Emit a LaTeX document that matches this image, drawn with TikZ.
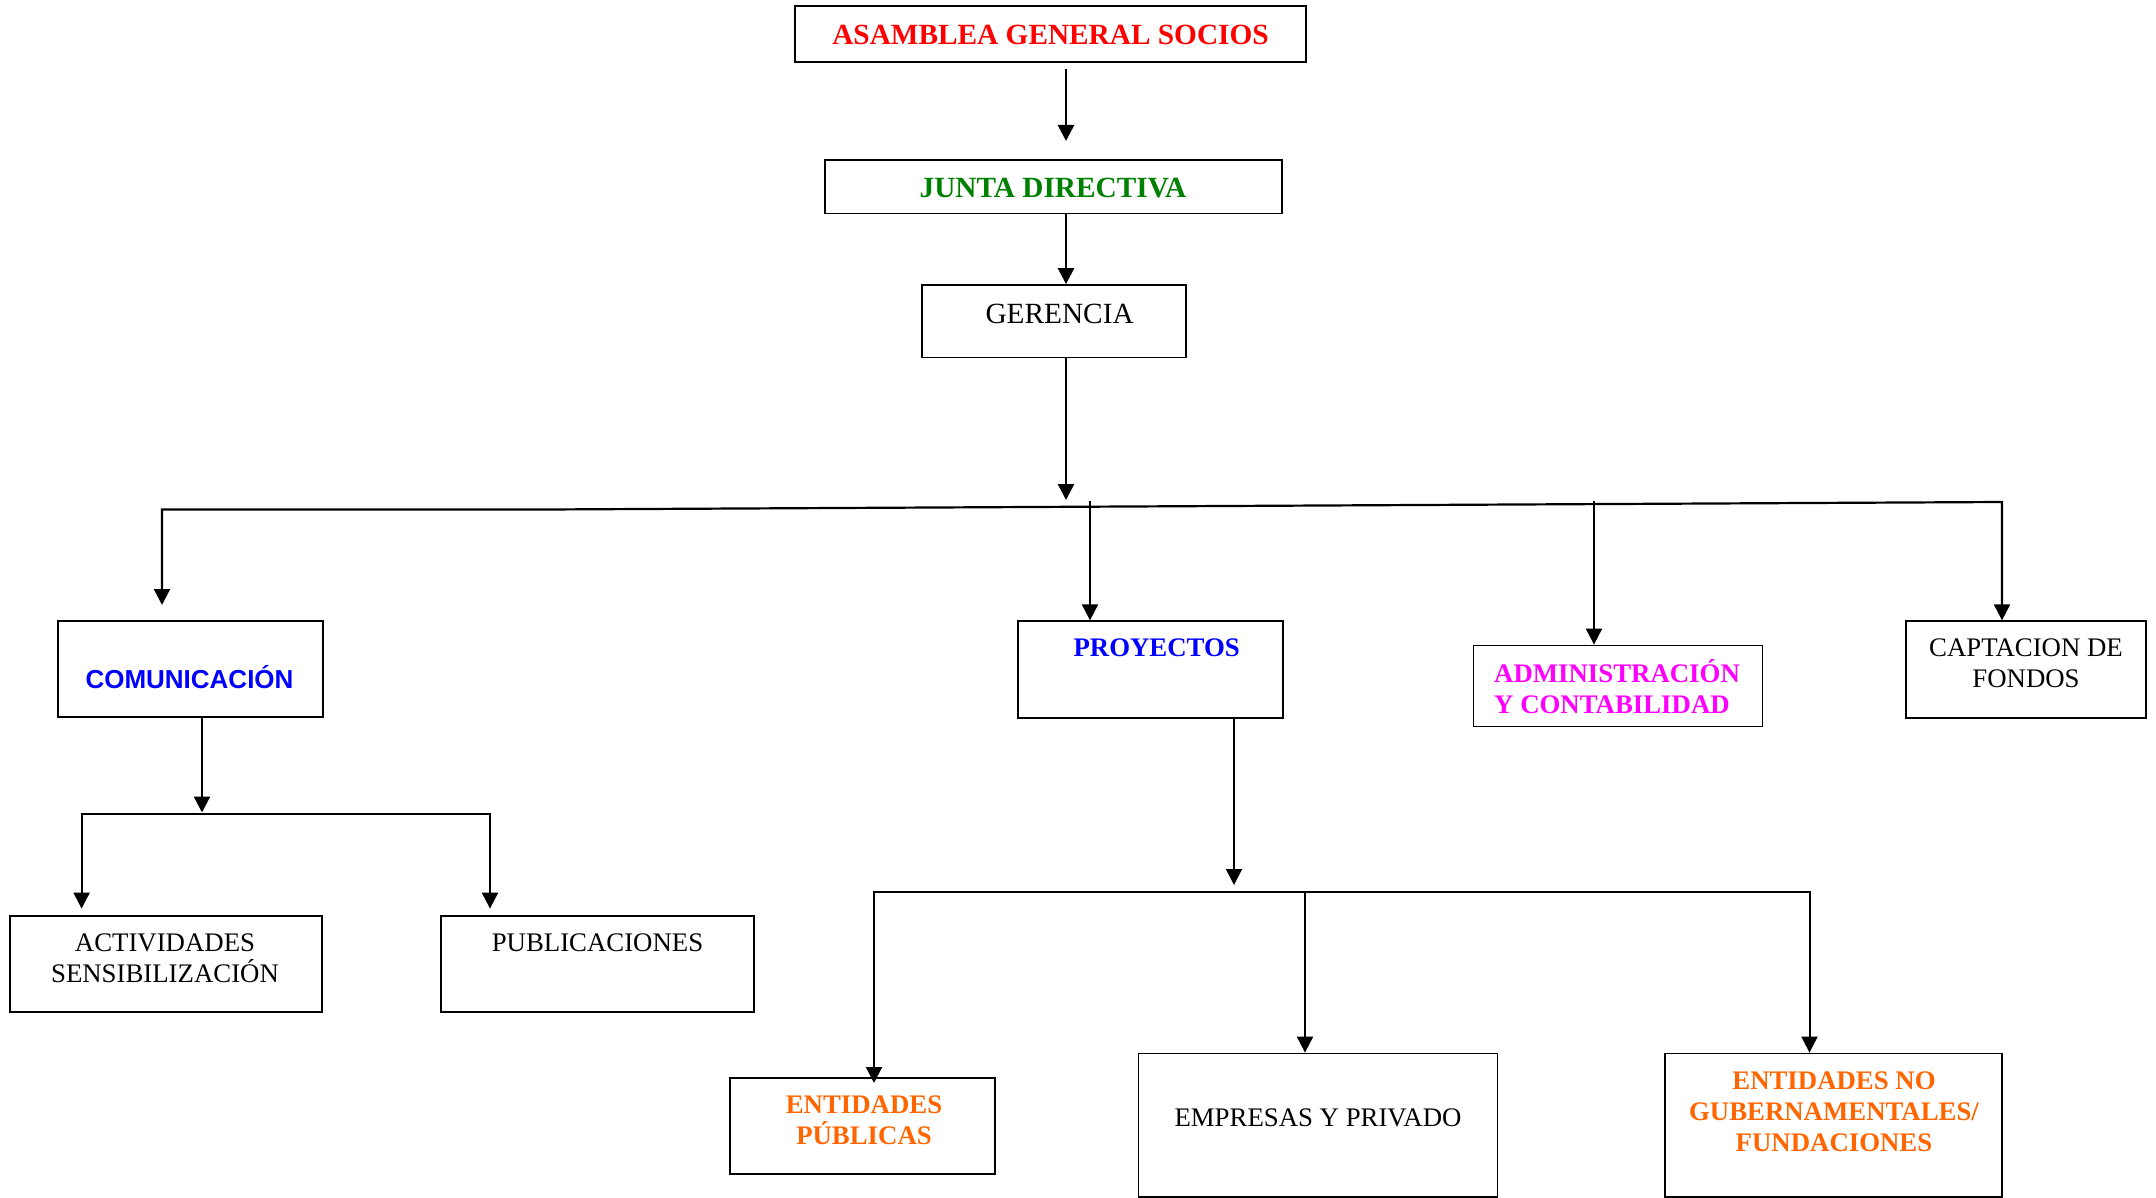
\documentclass[tikz,border=0pt]{standalone}
\usepackage{fontspec}
\setmainfont{Liberation Serif}
\newfontfamily\arialfont{Liberation Sans}
\usetikzlibrary{arrows.meta}
\definecolor{cred}{RGB}{255,0,0}
\definecolor{cgreen}{RGB}{0,128,0}
\definecolor{cblue}{RGB}{0,0,255}
\definecolor{cmag}{RGB}{255,0,255}
\definecolor{corange}{RGB}{255,102,0}
\tikzset{
  box/.style={draw, line width=1.8pt, rectangle, inner sep=0pt},
  big/.style={font=\fontsize{29.3}{33.7}\selectfont, inner sep=0pt, text height=19.4pt, text depth=0pt},
  small/.style={font=\fontsize{26.8}{30.8}\selectfont, inner sep=0pt, align=center},
  oneline/.style={text height=17.7pt, text depth=0pt},
  tipA/.tip={Triangle[width=16pt,length=16pt]},
  arrtop/.style={line width=2.6pt, -tipA},
  arrmid/.style={line width=2.2pt},
  arrlow/.style={line width=2pt},
}
\begin{document}
\begin{tikzpicture}[x=1pt,y=-1pt]
\path[use as bounding box, fill=white] (0,0) rectangle (2156,1198);

% boxes
\node[box, minimum width=511pt, minimum height=56pt] (asam) at (1050.5,34) {};
\node[box, minimum width=457pt, minimum height=53.5pt] (junta) at (1053.5,186.75) {};
\node[box, minimum width=264pt, minimum height=72.5pt] (ger) at (1054,321.25) {};
\node[box, minimum width=265pt, minimum height=96pt] (com) at (190.5,669) {};
\node[box, minimum width=312pt, minimum height=96pt] (act) at (166,964) {};
\node[box, minimum width=313pt, minimum height=96pt] (pub) at (597.5,964) {};
\node[box, minimum width=265pt, minimum height=96.5pt] (proy) at (1150.5,669.5) {};
\node[box, minimum width=289pt, minimum height=81pt] (adm) at (1618,686) {};
\node[box, minimum width=240pt, minimum height=96.5pt] (capt) at (2026,669.5) {};
\node[box, minimum width=265pt, minimum height=96pt] (entp) at (862.5,1126) {};
\node[box, minimum width=359pt, minimum height=143.5pt] (emp) at (1318,1125.25) {};
\node[box, minimum width=337pt, minimum height=143.5pt] (ong) at (1833.5,1125.25) {};

% texts
\node[big, text=cred] (tasam) at (1050.5,35) {\bfseries ASAMBLEA GENERAL SOCIOS};
\node[big, text=cgreen] (tjunta) at (1053,188.3) {\bfseries JUNTA DIRECTIVA};
\node[big] (tger) at (1059.6,313.7) {GERENCIA};
\node[small, text=cblue, text height=18.6pt, text depth=0pt, font=\fontsize{26}{30}\selectfont\arialfont\bfseries] (tcom) at (189.5,679.5) {COMUNICACIÓN};
\node[small, oneline, text=cblue] (tproy) at (1156.7,648) {\bfseries PROYECTOS};
\node[small, text=cmag, align=left, anchor=west] (tadm) at (1494,687) {\bfseries ADMINISTRACIÓN\\\bfseries Y CONTABILIDAD};
\node[small] (tcapt) at (2026,663.5) {CAPTACION DE\\FONDOS};
\node[small] (tact) at (165,958) {ACTIVIDADES\\SENSIBILIZACIÓN};
\node[small, oneline] (tpub) at (597.5,943) {PUBLICACIONES};
\node[small, text=corange] (tentp) at (864,1120.5) {\bfseries ENTIDADES\\\bfseries PÚBLICAS};
\node[small, oneline] (temp) at (1318,1118) {EMPRESAS Y PRIVADO};
\node[small, text=corange] (tong) at (1834,1112) {\bfseries ENTIDADES NO\\\bfseries GUBERNAMENTALES/\\\bfseries FUNDACIONES};

% top connectors
\coordinate (c1) at (1066,69);
\coordinate (c2) at (1066,141);
\coordinate (c3) at (1066,500);
\draw[arrtop] (c1) -- (c2);
\draw[arrtop] (junta.south -| c1) -- (ger.north -| c1);
\draw[arrtop] (ger.south -| c1) -- (c3);

% main bus
\coordinate (bL) at (162,509.5);
\coordinate (bK) at (546,509.5);
\coordinate (bR) at (2002,502);
\coordinate (comtip) at (162,605);
\draw[arrmid, tipA-tipA] (comtip) -- (bL) -- (bK) -- (bR) -- (capt.north -| bR);
\coordinate (pstart) at (1090,501);
\coordinate (astart) at (1594,501);
\draw[arrlow, -tipA] (pstart) -- (proy.north -| pstart);
\draw[arrlow, -tipA] (astart) -- (adm.north -| astart);

% comunicacion branch
\coordinate (cx) at (202,812.5);
\draw[arrmid, -tipA] (com.south -| cx) -- (cx);
\coordinate (cL) at (81.6,814);
\coordinate (cR) at (490,814);
\coordinate (actTip) at (81.6,908.6);
\coordinate (pubTip) at (490,908.6);
\draw[arrmid, tipA-tipA] (actTip) -- (cL) -- (cR) -- (pubTip);

% proyectos branch
\coordinate (px) at (1234,885);
\draw[arrlow, -tipA] (proy.south -| px) -- (px);
\coordinate (qL) at (874,892);
\coordinate (qM) at (1305,892);
\coordinate (qR) at (1809.5,892);
\coordinate (entTip) at (874,1083);
\draw[arrlow, tipA-tipA] (entTip) -- (qL) -- (qR) -- (ong.north -| qR);
\draw[arrlow, -tipA] (qM) -- (emp.north -| qM);
\end{tikzpicture}
\end{document}
